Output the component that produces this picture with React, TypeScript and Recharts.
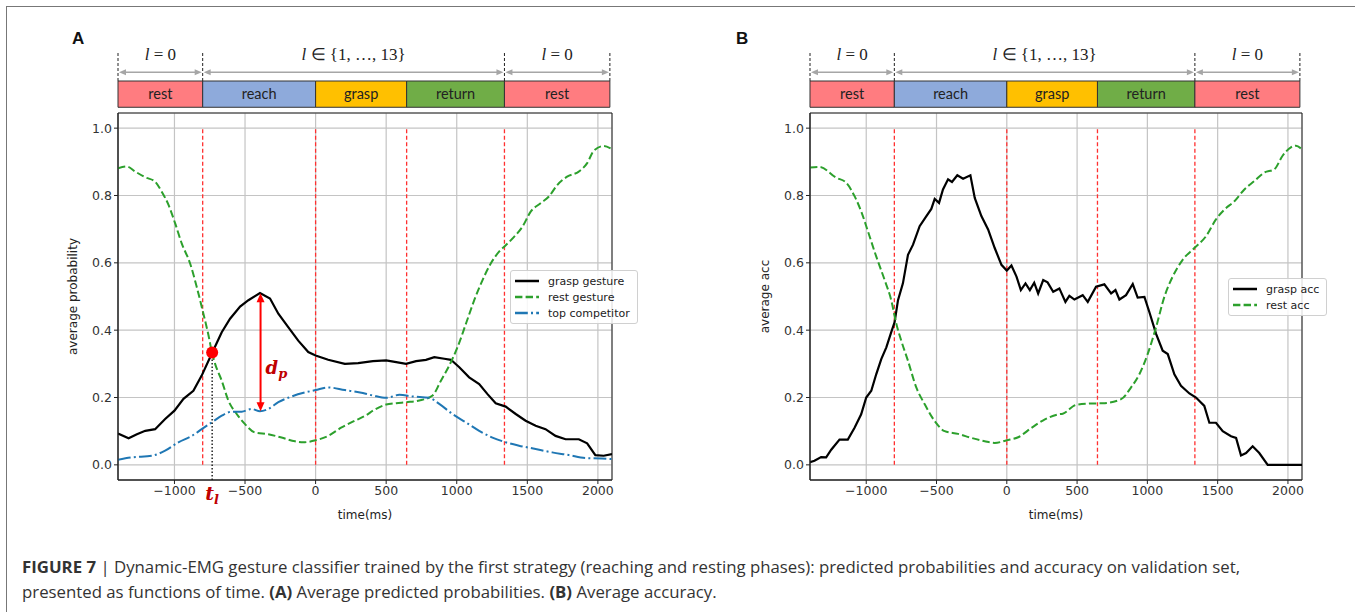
import React from 'react';
import {
  LineChart,
  Line,
  XAxis,
  YAxis,
  CartesianGrid,
  ReferenceLine,
  ReferenceArea,
  ReferenceDot,
  Legend,
} from 'recharts';

// ---- data ----
const phaseNames = ['rest', 'reach', 'grasp', 'return', 'rest'];
const phaseColors = ['#ff7c80', '#8eaadb', '#ffc000', '#70ad47', '#ff7c80'];
const phaseEdges = [-1400, -800, 0, 645, 1338, 2085];
const eventTimes = [-800, 0, 645, 1338];
const labelSpans = [
  { from: -1400, to: -800, rel: '= ', set: '0' },
  { from: -800, to: 1338, rel: '∈ ', set: '{1, …, 13}' },
  { from: 1338, to: 2085, rel: '= ', set: '0' },
];
const xTicks = [-1000, -500, 0, 500, 1000, 1500, 2000];
const yTicks = [0, 0.2, 0.4, 0.6, 0.8, 1.0];

const graspGestureA = [
  [-1400, 0.093], [-1325, 0.079], [-1266, 0.091], [-1207, 0.101], [-1137, 0.106], [-1066, 0.136],
  [-1000, 0.161], [-936, 0.196], [-866, 0.22], [-807, 0.265], [-736, 0.33], [-665, 0.394],
  [-606, 0.434], [-535, 0.47], [-476, 0.489], [-394, 0.51], [-323, 0.494], [-264, 0.449],
  [-194, 0.409], [-123, 0.369], [-52, 0.335], [0, 0.325], [89, 0.312], [207, 0.3], [302, 0.302],
  [406, 0.308], [500, 0.31], [571, 0.305], [641, 0.3], [712, 0.308], [782, 0.312], [841, 0.32],
  [912, 0.315], [959, 0.312], [1018, 0.29], [1088, 0.26], [1159, 0.24], [1218, 0.21], [1276, 0.183],
  [1347, 0.173], [1418, 0.151], [1488, 0.131], [1559, 0.116], [1629, 0.106], [1700, 0.086],
  [1771, 0.076], [1865, 0.076], [1924, 0.064], [1982, 0.029], [2041, 0.027], [2100, 0.032],
];
const restGestureA = [
  [-1400, 0.881], [-1337, 0.886], [-1278, 0.871], [-1207, 0.854], [-1137, 0.841], [-1090, 0.811],
  [-1042, 0.772], [-995, 0.717], [-948, 0.657], [-889, 0.598], [-842, 0.528], [-795, 0.449],
  [-759, 0.385], [-735, 0.335], [-712, 0.3], [-665, 0.25], [-618, 0.191], [-559, 0.151],
  [-500, 0.121], [-429, 0.096], [-335, 0.091], [-241, 0.081], [-146, 0.07], [-87, 0.067], [0, 0.073],
  [89, 0.086], [184, 0.111], [278, 0.131], [361, 0.148], [406, 0.161], [500, 0.179], [571, 0.183],
  [641, 0.186], [735, 0.191], [829, 0.206], [888, 0.25], [947, 0.295], [1006, 0.35], [1065, 0.419],
  [1124, 0.489], [1182, 0.548], [1241, 0.598], [1300, 0.633], [1347, 0.652], [1406, 0.677],
  [1465, 0.707], [1524, 0.752], [1594, 0.777], [1653, 0.797], [1712, 0.831], [1782, 0.856],
  [1865, 0.871], [1924, 0.896], [1971, 0.933], [2041, 0.947], [2090, 0.94],
];
const topCompetitorA = [
  [-1400, 0.015], [-1302, 0.022], [-1160, 0.027], [-1066, 0.042], [-972, 0.067], [-877, 0.086],
  [-807, 0.106], [-736, 0.126], [-665, 0.146], [-594, 0.158], [-524, 0.158], [-453, 0.166],
  [-394, 0.159], [-335, 0.166], [-264, 0.186], [-170, 0.203], [-75, 0.215], [0, 0.222], [89, 0.23],
  [207, 0.222], [315, 0.215], [406, 0.206], [500, 0.199], [594, 0.208], [688, 0.203], [806, 0.199],
  [876, 0.181], [970, 0.151], [1065, 0.126], [1159, 0.101], [1253, 0.081], [1347, 0.067],
  [1441, 0.057], [1559, 0.047], [1676, 0.037], [1794, 0.029], [1912, 0.02], [2029, 0.019], [2100, 0.017],
];
const graspAccB = [
  [-1400, 0.008], [-1368, 0.012], [-1321, 0.023], [-1285, 0.022], [-1249, 0.045], [-1190, 0.075],
  [-1131, 0.075], [-1083, 0.11], [-1036, 0.15], [-1000, 0.2], [-964, 0.22], [-929, 0.269],
  [-893, 0.314], [-857, 0.349], [-822, 0.394], [-798, 0.424], [-774, 0.489], [-739, 0.539],
  [-703, 0.624], [-667, 0.654], [-620, 0.709], [-572, 0.739], [-537, 0.76], [-513, 0.79],
  [-482, 0.778], [-454, 0.818], [-418, 0.848], [-390, 0.84], [-352, 0.86], [-311, 0.85],
  [-259, 0.86], [-228, 0.793], [-181, 0.739], [-133, 0.699], [-86, 0.644], [-38, 0.594], [0, 0.577],
  [33, 0.592], [69, 0.559], [100, 0.519], [133, 0.539], [164, 0.519], [195, 0.541], [223, 0.509],
  [259, 0.549], [290, 0.542], [330, 0.514], [374, 0.524], [417, 0.484], [445, 0.502], [481, 0.491],
  [540, 0.504], [576, 0.484], [635, 0.529], [694, 0.536], [742, 0.509], [773, 0.519], [801, 0.491],
  [848, 0.504], [896, 0.537], [931, 0.497], [979, 0.499], [1014, 0.454], [1062, 0.389],
  [1109, 0.339], [1145, 0.329], [1192, 0.269], [1239, 0.235], [1299, 0.212], [1346, 0.2],
  [1405, 0.175], [1441, 0.125], [1488, 0.125], [1536, 0.1], [1595, 0.085], [1631, 0.08],
  [1666, 0.028], [1702, 0.035], [1749, 0.055], [1796, 0.035], [1856, 0], [2100, 0],
];
const restAccB = [
  [-1400, 0.883], [-1332, 0.885], [-1214, 0.853], [-1143, 0.838], [-1083, 0.798], [-1036, 0.753],
  [-988, 0.694], [-929, 0.619], [-869, 0.549], [-822, 0.489], [-786, 0.419], [-751, 0.369],
  [-703, 0.309], [-644, 0.23], [-584, 0.18], [-513, 0.13], [-442, 0.1], [-347, 0.092], [-252, 0.08],
  [-157, 0.07], [-86, 0.065], [0, 0.073], [81, 0.082], [176, 0.11], [271, 0.135], [366, 0.15],
  [398, 0.152], [493, 0.178], [588, 0.182], [682, 0.183], [813, 0.195], [884, 0.23], [943, 0.269],
  [1002, 0.329], [1062, 0.409], [1121, 0.499], [1180, 0.559], [1251, 0.609], [1334, 0.644],
  [1417, 0.679], [1488, 0.729], [1548, 0.758], [1619, 0.783], [1690, 0.818], [1761, 0.843],
  [1832, 0.868], [1903, 0.878], [1962, 0.918], [2021, 0.943], [2057, 0.948], [2092, 0.94],
];

// annotation points in panel A
const switchTime = -733;
const switchProb = 0.334;
const marginTime = -390;
const marginHigh = 0.51;
const marginLow = 0.159;

// ---- layout constants (data units above the plot, drawn with ifOverflow="visible") ----
const X_DOMAIN = [-1400, 2100];
const Y_DOMAIN = [-0.045, 1.045];
const BAR_BOTTOM = 1.062;
const BAR_TOP = 1.14;
const ARROW_Y = 1.166;
const MARK_TOP = 1.226;

const toPts = (arr: number[][]) => arr.map(([t, v]) => ({ t, v }));

const SOLID = { stroke: '#000000', dash: undefined as string | undefined };
const GREEN = { stroke: '#2ca02c', dash: '7.4 3.2' };
const BLUE = { stroke: '#1f77b4', dash: '12.8 3.2 2 3.2' };

const fmtX = (v: number) => (v < 0 ? `\u2212${-v}` : `${v}`);
const fmtY = (v: number) => v.toFixed(1);

const tickStyle = { fontSize: 12.5, fill: '#333', fontFamily: 'DejaVu Sans' };
const axisLabelStyle = { fontSize: 12, fill: '#222', fontFamily: 'DejaVu Sans' };

const SpanArrow = (p: any) => {
  const { x1, y1, x2, rel, set } = p;
  const a = Math.min(x1, x2);
  const b = Math.max(x1, x2);
  const y = y1;
  return (
    <g>
      <line x1={a + 5} x2={b - 5} y1={y} y2={y} stroke="#a6a6a6" strokeWidth={1.5} />
      <polygon points={`${a + 1},${y} ${a + 8},${y - 3} ${a + 8},${y + 3}`} fill="#a6a6a6" />
      <polygon points={`${b - 1},${y} ${b - 8},${y - 3} ${b - 8},${y + 3}`} fill="#a6a6a6" />
      <text x={(a + b) / 2} y={y - 12} textAnchor="middle" fontFamily="Liberation Serif" fontSize={17} fill="#222">
        <tspan fontStyle="italic">l</tspan> {rel}{set}
      </text>
    </g>
  );
};

const MarginArrow = (p: any) => {
  const { x1, y1, y2 } = p;
  const top = Math.min(y1, y2);
  const bot = Math.max(y1, y2);
  const x = x1;
  return (
    <g>
      <line x1={x} x2={x} y1={top + 6} y2={bot - 6} stroke="#ff0000" strokeWidth={2} />
      <polygon points={`${x},${top} ${x - 4},${top + 9} ${x + 4},${top + 9}`} fill="#ff0000" />
      <polygon points={`${x},${bot} ${x - 4},${bot - 9} ${x + 4},${bot - 9}`} fill="#ff0000" />
      <text x={x + 5} y={(top + bot) / 2 + 22} fontFamily="DejaVu Serif" fontStyle="italic" fontWeight="bold" fontSize={18} fill="#c00000">
        d<tspan fontSize={13} dy={4}>p</tspan>
      </text>
    </g>
  );
};

const SwitchLine = (p: any) => {
  const { x1, y1, y2 } = p;
  const bot = Math.max(y1, y2);
  return (
    <g>
      <line x1={x1} x2={x1} y1={Math.min(y1, y2)} y2={bot + 2} stroke="#000" strokeWidth={1.3} strokeDasharray="1.5 2" />
      <text x={x1 - 7} y={bot + 20} fontFamily="DejaVu Serif" fontStyle="italic" fontWeight="bold" fontSize={19} fill="#c00000">
        t<tspan fontSize={13} dy={4}>l</tspan>
      </text>
    </g>
  );
};

type Series = { name: string; data: number[][]; stroke: string; dash?: string; type: 'linear' | 'monotone' };

const LegendBox = ({ items }: { items: Series[] }) => (
  <div
    style={{
      background: 'rgba(255,255,255,0.85)',
      border: '1px solid #d0d0d0',
      borderRadius: 3,
      padding: '2px 7px 2px 3px',
      fontFamily: 'DejaVu Sans',
      fontSize: 11,
      color: '#222',
      whiteSpace: 'nowrap',
    }}
  >
    {items.map((it) => (
      <div key={it.name} style={{ display: 'flex', alignItems: 'center', height: 16 }}>
        <svg width={26} height={10}>
          <line x1={1} x2={25} y1={5} y2={5} stroke={it.stroke} strokeWidth={2.5} strokeDasharray={it.dash} />
        </svg>
        <span style={{ marginLeft: 8 }}>{it.name}</span>
      </div>
    ))}
  </div>
);

const Panel = ({
  left,
  letter,
  yLabel,
  series,
  legendPos,
  marginRight,
  annotate,
}: {
  left: number;
  letter: string;
  yLabel: string;
  series: Series[];
  legendPos: { left: number; top: number };
  marginRight: number;
  annotate: boolean;
}) => (
  <div style={{ position: 'absolute', left, top: 0, width: 660, height: 530 }}>
    <div
      style={{
        position: 'absolute',
        left: letter === 'A' ? 72 : 44,
        top: 29,
        fontFamily: 'Liberation Sans',
        fontWeight: 'bold',
        fontSize: 17,
        color: '#111',
      }}
    >
      {letter}
    </div>
    <LineChart width={660} height={530} margin={{ top: 113, right: marginRight, bottom: 10, left: 60 }}>
      <CartesianGrid stroke="#c4c4c4" strokeWidth={1.2} />
      <XAxis
        dataKey="t"
        type="number"
        domain={X_DOMAIN}
        allowDataOverflow
        ticks={xTicks}
        tickFormatter={fmtX}
        tick={tickStyle}
        tickSize={4}
        tickLine={{ stroke: '#222' }}
        axisLine={{ stroke: '#222' }}
        height={40}
        label={{ value: 'time(ms)', position: 'insideBottom', offset: 1, style: axisLabelStyle }}
      />
      <YAxis
        type="number"
        domain={Y_DOMAIN}
        allowDataOverflow
        ticks={yTicks}
        tickFormatter={fmtY}
        tick={tickStyle}
        tickSize={4}
        tickLine={{ stroke: '#222' }}
        axisLine={{ stroke: '#222' }}
        width={58}
        label={{
          value: yLabel,
          angle: -90,
          position: 'insideLeft',
          offset: 13,
          style: { ...axisLabelStyle, textAnchor: 'middle' },
        }}
      />
      <ReferenceArea x1={X_DOMAIN[0]} x2={X_DOMAIN[1]} y1={Y_DOMAIN[0]} y2={Y_DOMAIN[1]} ifOverflow="visible" fill="none" stroke="#222" strokeWidth={1} />
      {eventTimes.map((t) => (
        <ReferenceLine
          key={'ev' + t}
          segment={[{ x: t, y: 0 }, { x: t, y: 1 }]}
          stroke="#ff3030"
          strokeWidth={1.3}
          strokeDasharray="4 2.5"
        />
      ))}
      {phaseNames.map((name, i) => (
        <ReferenceArea
          key={'ph' + i}
          x1={phaseEdges[i]}
          x2={phaseEdges[i + 1]}
          y1={BAR_BOTTOM}
          y2={BAR_TOP}
          ifOverflow="visible"
          fill={phaseColors[i]}
          fillOpacity={1}
          stroke="#333"
          strokeWidth={1}
          label={{ value: name, position: 'center', fill: '#222', fontSize: 14.5, fontFamily: 'Lato' }}
        />
      ))}
      {[phaseEdges[0], phaseEdges[1], phaseEdges[4], phaseEdges[5]].map((t) => (
        <ReferenceLine
          key={'mk' + t}
          segment={[{ x: t, y: BAR_TOP }, { x: t, y: MARK_TOP }]}
          ifOverflow="visible"
          stroke="#222"
          strokeWidth={1}
          strokeDasharray="3 2"
        />
      ))}
      {labelSpans.map((s) => (
        <ReferenceLine
          key={'sp' + s.from}
          segment={[{ x: s.from, y: ARROW_Y }, { x: s.to, y: ARROW_Y }]}
          ifOverflow="visible"
          shape={(p: any) => <SpanArrow {...p} rel={s.rel} set={s.set} />}
        />
      ))}
      {series.map((s) => (
        <Line
          key={s.name}
          name={s.name}
          data={toPts(s.data)}
          dataKey="v"
          type={s.type}
          stroke={s.stroke}
          strokeWidth={s.stroke === '#000000' ? 2.2 : 2}
          strokeDasharray={s.dash}
          dot={false}
          activeDot={false}
          isAnimationActive={false}
        />
      ))}
      {annotate && (
        <ReferenceLine
          segment={[{ x: marginTime, y: marginLow }, { x: marginTime, y: marginHigh }]}
          shape={(p: any) => <MarginArrow {...p} />}
        />
      )}
      {annotate && (
        <ReferenceLine
          segment={[{ x: switchTime, y: switchProb }, { x: switchTime, y: Y_DOMAIN[0] }]}
          ifOverflow="visible"
          shape={(p: any) => <SwitchLine {...p} />}
        />
      )}
      {annotate && <ReferenceDot x={switchTime} y={switchProb} r={6} fill="#ff0000" stroke="none" />}
      <Legend
        layout="vertical"
        align="center"
        verticalAlign="middle"
        content={() => <LegendBox items={series} />}
        wrapperStyle={{ left: legendPos.left, top: legendPos.top, width: 'auto' }}
      />
    </LineChart>
  </div>
);

const seriesA: Series[] = [
  { name: 'grasp gesture', data: graspGestureA, ...SOLID, type: 'linear' },
  { name: 'rest gesture', data: restGestureA, ...GREEN, type: 'monotone' },
  { name: 'top competitor', data: topCompetitorA, ...BLUE, type: 'monotone' },
];
const seriesB: Series[] = [
  { name: 'grasp acc', data: graspAccB, ...SOLID, type: 'linear' },
  { name: 'rest acc', data: restAccB, ...GREEN, type: 'monotone' },
];

export default function App() {
  return (
    <div style={{ position: 'absolute', left: 0, top: 0, width: 1355, height: 612, background: '#fff', overflow: 'hidden' }}>
      <div style={{ position: 'absolute', left: 6, top: 6, width: 1360, height: 620, borderTop: '1px solid #777', borderLeft: '1px solid #777' }} />
      <Panel left={0} letter="A" yLabel="average probability" series={seriesA} legendPos={{ left: 510, top: 270 }} marginRight={48} annotate />
      <Panel left={692} letter="B" yLabel="average acc" series={seriesB} legendPos={{ left: 536, top: 278 }} marginRight={50} annotate={false} />
      <div style={{ position: 'absolute', left: 22, top: 554, fontFamily: 'Open Sans', fontSize: 16.8, lineHeight: '25px', color: '#333', whiteSpace: 'nowrap' }}>
        <div>
          <b>FIGURE 7</b> | Dynamic-EMG gesture classifier trained by the first strategy (reaching and resting phases): predicted probabilities and accuracy on validation set,
        </div>
        <div>
          presented as functions of time. <b>(A)</b> Average predicted probabilities. <b>(B)</b> Average accuracy.
        </div>
      </div>
    </div>
  );
}
